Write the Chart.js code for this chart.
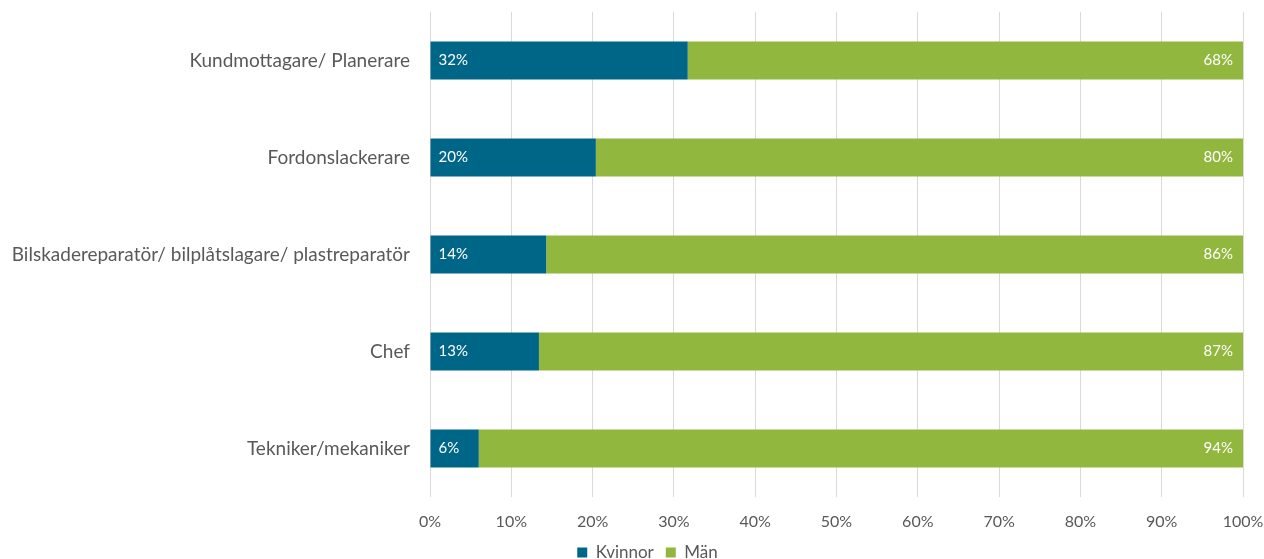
<!DOCTYPE html>
<html><head><meta charset="utf-8">
<script src="https://cdn.jsdelivr.net/npm/chart.js@4"></script>
<style>html,body{margin:0;padding:0;background:#fff}#wrap{width:1264px;height:559px}</style>
</head><body><div id="wrap"><canvas id="c"></canvas></div>
<script>
const categories = ["Kundmottagare/ Planerare","Fordonslackerare","Bilskadereparatör/ bilplåtslagare/ plastreparatör","Chef","Tekniker/mekaniker"];
const kvinnor = [31.7, 20.4, 14.3, 13.4, 6.0];
const man = [68.3, 79.6, 85.7, 86.6, 94.0];
const kvinnorLabels = ["32%","20%","14%","13%","6%"];
const manLabels = ["68%","80%","86%","87%","94%"];
const tickLabels = ["0%","10%","20%","30%","40%","50%","60%","70%","80%","90%","100%"];
const FONT = "Lato, 'Open Sans', sans-serif";

const labelPlugin = {
  id:'barLabels',
  afterLayout(chart){
    if (chart.legend) { chart.legend.left += 26; chart.legend.right += 26; }
  },
  afterDatasetsDraw(chart){
    const ctx = chart.ctx;
    ctx.save();
    ctx.fillStyle = '#ffffff';
    ctx.font = '15px ' + FONT;
    ctx.textBaseline = 'middle';
    const m0 = chart.getDatasetMeta(0), m1 = chart.getDatasetMeta(1);
    m0.data.forEach((b,i)=>{ ctx.textAlign='left'; ctx.fillText(kvinnorLabels[i], b.base + 8, b.y); });
    m1.data.forEach((b,i)=>{ ctx.textAlign='right'; ctx.fillText(manLabels[i], b.x - 10, b.y); });
    ctx.restore();
  }
};

new Chart(document.getElementById('c'), {
  type:'bar',
  data:{
    labels: categories,
    datasets:[
      {label:'Kvinnor', data:kvinnor, backgroundColor:'#006688', barPercentage:0.78, categoryPercentage:0.5},
      {label:'Män', data:man, backgroundColor:'#92B73F', barPercentage:0.78, categoryPercentage:0.5}
    ]
  },
  options:{
    indexAxis:'y',
    responsive:true,
    maintainAspectRatio:false,
    animation:false,
    layout:{autoPadding:false, padding:{top:12,right:21,left:0,bottom:-12}},
    plugins:{
      legend:{position:'bottom', labels:{boxWidth:10, boxHeight:10, padding:12, color:'#595959', font:{family:FONT,size:17}}},
      tooltip:{enabled:false}
    },
    scales:{
      x:{
        stacked:true, min:0, max:100,
        grid:{color:'#d9d9d9', lineWidth:1, drawTicks:false},
        border:{display:false},
        ticks:{stepSize:10, padding:15, color:'#595959', font:{family:FONT,size:16}, maxRotation:0, autoSkip:false,
          callback:(v,i)=>tickLabels[i]},
        afterFit:(s)=>{ s.height = 35; s.paddingLeft = 0; s.paddingRight = 0; }
      },
      y:{
        stacked:true,
        grid:{display:false, drawTicks:false},
        border:{display:false},
        ticks:{padding:20, color:'#595959', font:{family:FONT,size:19}},
        afterFit:(s)=>{ s.width = 430; s.paddingTop = 0; s.paddingBottom = 0; }
      }
    }
  },
  plugins:[labelPlugin]
});
</script></body></html>
